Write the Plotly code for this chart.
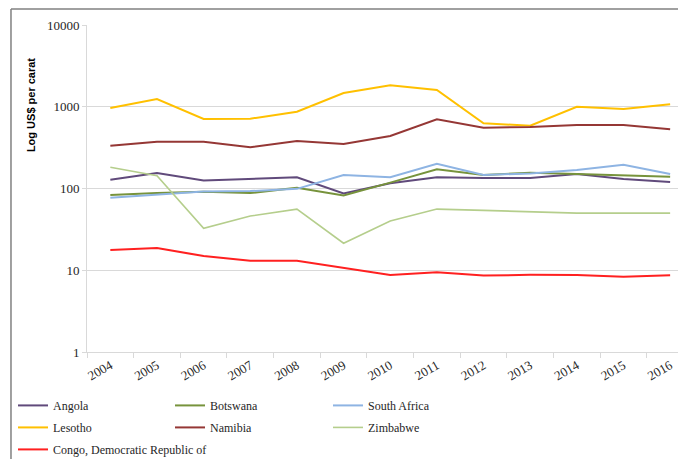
import plotly.graph_objects as go

years = ["2004", "2005", "2006", "2007", "2008", "2009", "2010",
         "2011", "2012", "2013", "2014", "2015", "2016"]

angola = [128, 155, 125, 132, 137, 87, 116, 137, 134, 134, 150, 131, 120]
botswana = [83, 88, 91, 88, 102, 82, 118, 172, 146, 156, 150, 143, 139]
south_africa = [77, 85, 92, 93, 99, 146, 137, 200, 146, 153, 168, 195, 150]
lesotho = [966, 1245, 708, 714, 870, 1470, 1830, 1600, 628, 585, 1000, 940, 1070]
namibia = [334, 374, 374, 319, 381, 350, 438, 702, 555, 565, 598, 598, 530]
zimbabwe = [182, 143, 32.6, 46, 56, 21.4, 40, 56, 54, 52, 50, 50, 50]
congo_drc = [17.7, 18.7, 14.9, 13.1, 13.1, 10.6, 8.75, 9.44, 8.6, 8.8, 8.75, 8.3, 8.7]

y_tickvals = [1, 10, 100, 1000, 10000]
y_ticktext = ["1", "10", "100", "1000", "10000"]
y_title = "Log US$ per carat"

series = [
    ("Angola", angola, "#604A7B", 2.0, "legend"),
    ("Botswana", botswana, "#77933C", 2.0, "legend2"),
    ("South Africa", south_africa, "#8EB4E3", 2.0, "legend3"),
    ("Lesotho", lesotho, "#FFC000", 2.0, "legend"),
    ("Namibia", namibia, "#953735", 2.0, "legend2"),
    ("Zimbabwe", zimbabwe, "#B5CE8C", 1.6, "legend3"),
    ("Congo, Democratic Republic of", congo_drc, "#FF2020", 2.0, "legend"),
]

fig = go.Figure()
for name, vals, color, width, leg in series:
    fig.add_trace(go.Scatter(
        x=years, y=vals, mode="lines", name=name,
        line=dict(color=color, width=width),
        legend=leg, legendgroup=name,
    ))

serif = "Liberation Serif"
legend_common = dict(
    orientation="v", yanchor="top", xanchor="left", y=-0.119,
    bgcolor="rgba(0,0,0,0)", traceorder="grouped", tracegroupgap=3,
    font=dict(family=serif, size=12, color="#262626"), itemwidth=30,
)

# the page body adds an 8px offset; margins compensate so the plot area
# sits at the same screen position as in the reference
fig.update_layout(
    width=686, height=459,
    margin=dict(l=79, r=8, t=17, b=115, autoexpand=False),
    paper_bgcolor="white", plot_bgcolor="white",
    showlegend=True,
    legend=dict(x=-0.1235, **legend_common),
    legend2=dict(x=0.1386, **legend_common),
    legend3=dict(x=0.4023, **legend_common),
    xaxis=dict(
        type="category", range=[-0.5, 12.34],
        showgrid=False, showline=True, linecolor="#d9d9d9", linewidth=1,
        ticks="outside", tickson="boundaries", ticklen=5, tickcolor="#d9d9d9",
        tickangle=-30, tickfont=dict(family=serif, size=13, color="#262626"),
        zeroline=False,
    ),
    yaxis=dict(
        type="log", range=[0, 4],
        tickvals=y_tickvals, ticktext=y_ticktext,
        showgrid=True, gridcolor="#d9d9d9", gridwidth=1,
        showline=True, linecolor="#d9d9d9", linewidth=1,
        ticks="outside", ticklen=4, tickcolor="#d9d9d9",
        tickfont=dict(family=serif, size=13, color="#262626"),
        zeroline=False,
    ),
    annotations=[dict(
        text=y_title, xref="paper", yref="paper", x=-0.0935, y=0.755,
        textangle=-90, showarrow=False, xanchor="center", yanchor="middle",
        font=dict(family="Liberation Sans", size=11, color="black", weight="bold"),
    )],
    shapes=[
        dict(type="line", xref="paper", yref="paper", x0=-0.1269, x1=-0.1269,
             y0=1.049, y1=-0.33, line=dict(color="#808080", width=1.5)),
        dict(type="line", xref="paper", yref="paper", x0=-0.1269, x1=1.02,
             y0=1.049, y1=1.049, line=dict(color="#808080", width=1.5)),
    ],
)

fig.write_html("out.html")
